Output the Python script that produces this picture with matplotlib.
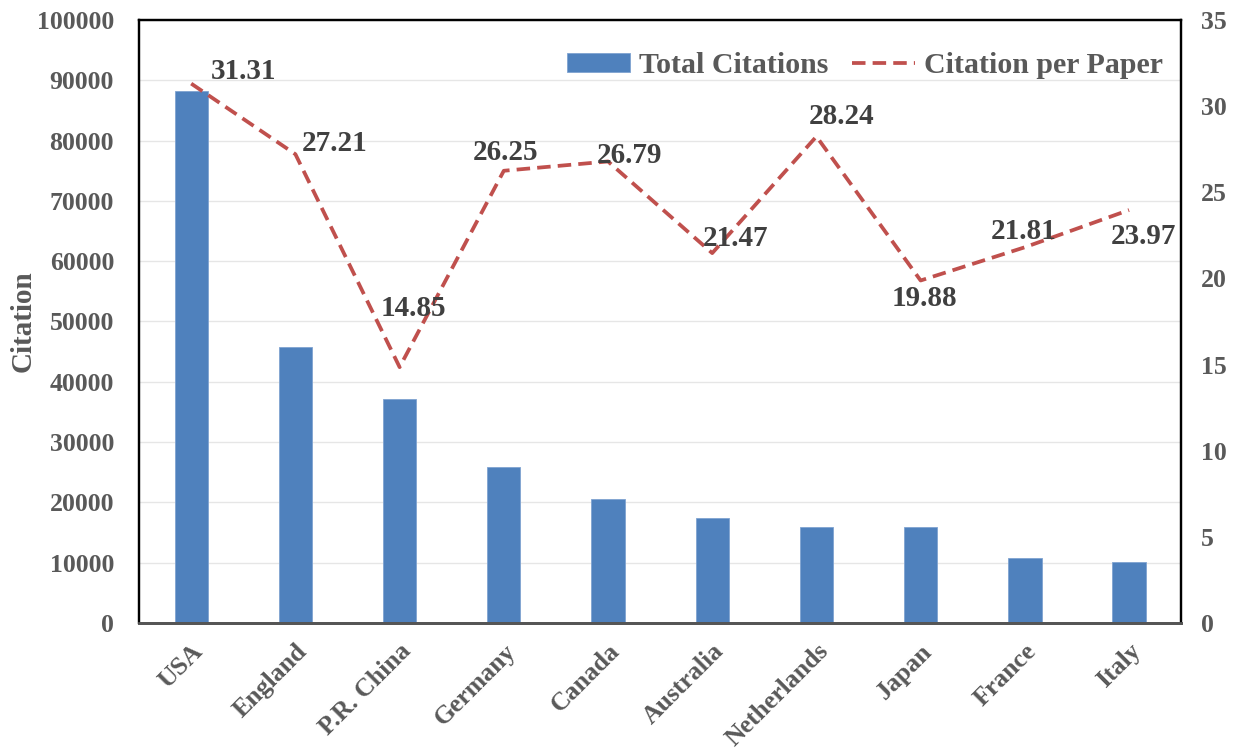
"""Citation bar chart by country with citations-per-paper on a twin axis."""

import matplotlib

matplotlib.use("Agg")
import matplotlib.pyplot as plt
import numpy as np

countries = ["USA", "England", "P.R. China", "Germany", "Canada",
             "Australia", "Netherlands", "Japan", "France", "Italy"]
total_citations = [88200, 45700, 37200, 25900, 20600, 17400, 15950, 15950, 10800, 10150]
citation_per_paper = [31.31, 27.21, 14.85, 26.25, 26.79, 21.47, 28.24, 19.88, 21.81, 23.97]

# label nudges in pixels (dx, dy) so the numbers sit clear of the line
label_offsets = [(52, 12), (39, 11), (14, 59), (2, 18), (21, 6),
                 (23, 15), (25, 20), (4, -18), (-1, 16), (14, -26)]

BAR_COLOR = "#4F81BD"
LINE_COLOR = "#C0504D"
TICK_COLOR = "#595959"
LABEL_COLOR = "#404040"

plt.rcParams["font.family"] = ["Liberation Serif", "DejaVu Serif"]
plt.rcParams["font.weight"] = "bold"

fig = plt.figure(figsize=(12.42, 7.53), dpi=100)
ax = fig.add_axes([0.112, 0.1727, 0.839, 0.8007])
x = np.arange(len(countries))

bars = ax.bar(x, total_citations, width=0.32, color=BAR_COLOR,
              edgecolor="#7FA3D1", linewidth=0.6, label="Total Citations", zorder=2)
ax.set_xlim(-0.5, len(countries) - 0.5)
ax.set_ylim(0, 100000)
ax.set_yticks(np.arange(0, 100001, 10000))
ax.grid(axis="y", color="#E6E6E6", linewidth=1.0, zorder=0)
ax.set_axisbelow(True)
ax.set_xticks(x)
ax.set_xticklabels(countries, rotation=45, ha="right", rotation_mode="anchor",
                   fontsize=18.5, fontweight="bold", color=TICK_COLOR)
ax.tick_params(axis="y", length=0, labelsize=18.5, labelcolor=TICK_COLOR, pad=18)
ax.tick_params(axis="x", length=0, labelcolor=TICK_COLOR, pad=12)
for lbl in ax.get_yticklabels():
    lbl.set_fontweight("bold")
ax.set_ylabel("Citation", fontsize=21, fontweight="bold", color=TICK_COLOR, labelpad=0.5)

ax2 = ax.twinx()
line, = ax2.plot(x, citation_per_paper, color=LINE_COLOR, linestyle=(0, (3.6, 1.9)),
                 linewidth=2.7, label="Citation per Paper", zorder=3)
ax2.set_ylim(0, 35)
ax2.set_yticks(np.arange(0, 36, 5))
ax2.tick_params(axis="y", length=0, labelsize=18.5, labelcolor=TICK_COLOR, pad=14)
for lbl in ax2.get_yticklabels():
    lbl.set_fontweight("bold")

for xi, val, (dx, dy) in zip(x, citation_per_paper, label_offsets):
    ax2.annotate(f"{val:.2f}", (xi, val), xytext=(dx, dy), textcoords="offset pixels",
                 ha="center", va="center", fontsize=21, fontweight="bold",
                 color=LABEL_COLOR, zorder=4)

for a in (ax, ax2):
    for side in ("top", "left", "right"):
        a.spines[side].set_color("black")
        a.spines[side].set_linewidth(1.6)
    a.spines["bottom"].set_color("#555555")
    a.spines["bottom"].set_linewidth(2.0)

ax2.legend([bars, line], ["Total Citations", "Citation per Paper"], loc="upper right",
           bbox_to_anchor=(1.008, 0.992), ncol=2, frameon=False,
           prop={"weight": "bold", "size": 21.5}, labelcolor=TICK_COLOR,
           handlelength=2.1, handleheight=0.6, columnspacing=0.8, handletextpad=0.3)

fig.savefig("out.png", dpi=100)
plt.close(fig)
